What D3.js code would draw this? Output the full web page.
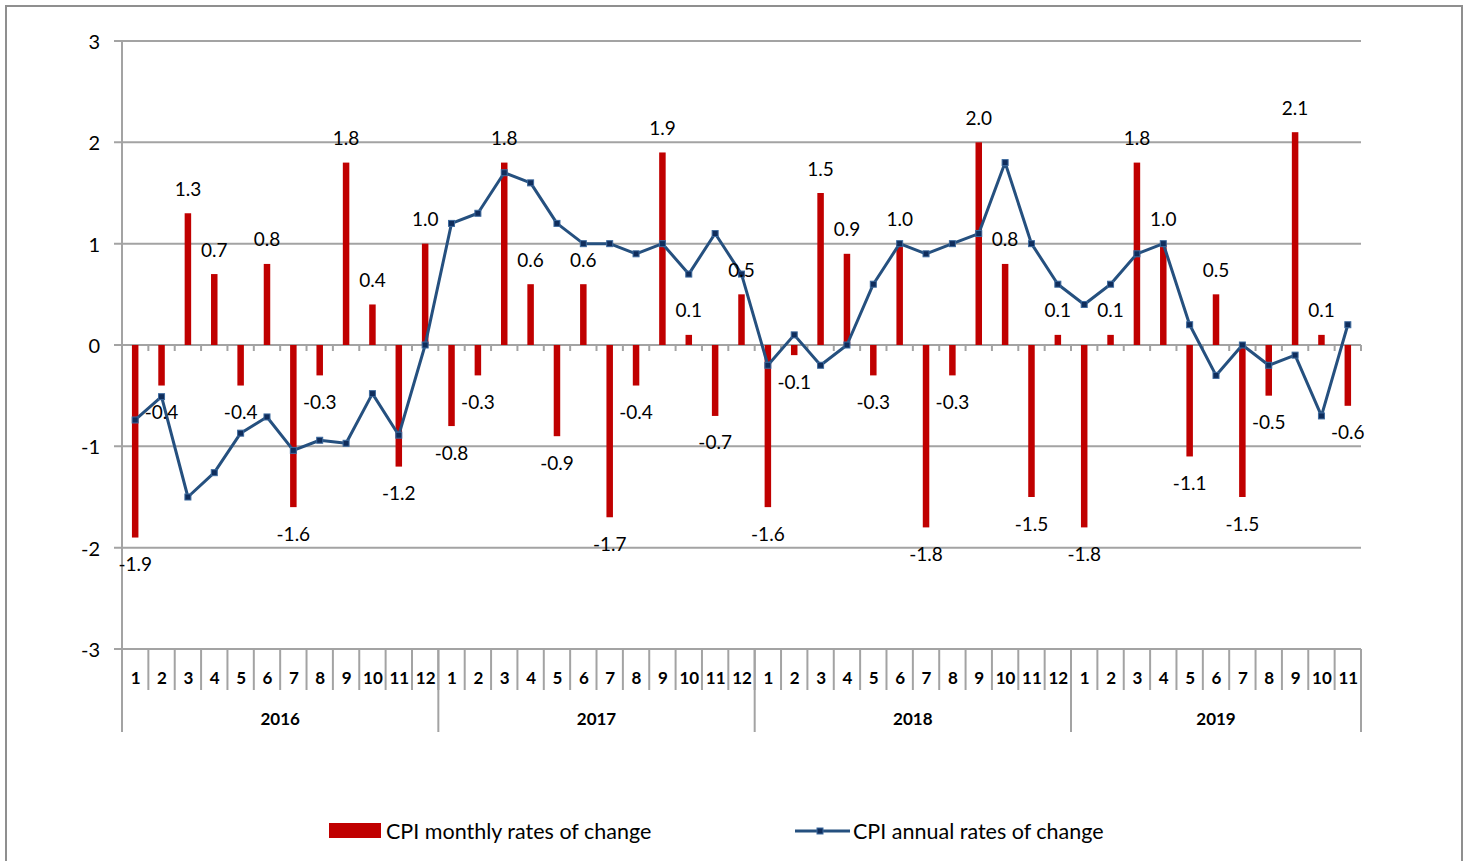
<!DOCTYPE html>
<html>
<head>
<meta charset="utf-8">
<script src="https://cdn.jsdelivr.net/npm/d3@7"></script>
<style>
  html, body { margin: 0; padding: 0; background: #fff; }
  svg { display: block; font-family: Lato, "Open Sans", sans-serif; }
</style>
</head>
<body>
<svg id="chart" width="1465" height="861"></svg>
<script>
// Years and the months shown for each
const years = ["2016", "2017", "2018", "2019"];
const monthsPerYear = [12, 12, 12, 11];

// CPI monthly rates of change (%)
const monthly2016 = [-1.9, -0.4, 1.3, 0.7, -0.4, 0.8, -1.6, -0.3, 1.8, 0.4, -1.2, 1.0];
const monthly2017 = [-0.8, -0.3, 1.8, 0.6, -0.9, 0.6, -1.7, -0.4, 1.9, 0.1, -0.7, 0.5];
const monthly2018 = [-1.6, -0.1, 1.5, 0.9, -0.3, 1.0, -1.8, -0.3, 2.0, 0.8, -1.5, 0.1];
const monthly2019 = [-1.8, 0.1, 1.8, 1.0, -1.1, 0.5, -1.5, -0.5, 2.1, 0.1, -0.6];

// CPI annual rates of change (%)
const annual2016 = [-0.74, -0.51, -1.5, -1.26, -0.87, -0.71, -1.04, -0.94, -0.97, -0.48, -0.89, 0.0];
const annual2017 = [1.2, 1.3, 1.7, 1.6, 1.2, 1.0, 1.0, 0.9, 1.0, 0.7, 1.1, 0.7];
const annual2018 = [-0.2, 0.1, -0.2, 0.0, 0.6, 1.0, 0.9, 1.0, 1.1, 1.8, 1.0, 0.6];
const annual2019 = [0.4, 0.6, 0.9, 1.0, 0.2, -0.3, 0.0, -0.2, -0.1, -0.7, 0.2];

const yTicks = [-3, -2, -1, 0, 1, 2, 3];
const seriesNames = ["CPI monthly rates of change", "CPI annual rates of change"];

// Flatten into one row per month
const monthlyAll = [monthly2016, monthly2017, monthly2018, monthly2019];
const annualAll = [annual2016, annual2017, annual2018, annual2019];
const rows = [];
years.forEach((yr, yi) => {
  for (let m = 0; m < monthsPerYear[yi]; m++) {
    rows.push({ key: yr + "-" + (m + 1), year: yr, month: m + 1,
                monthly: monthlyAll[yi][m], annual: annualAll[yi][m] });
  }
});

// Number formatting with a plain hyphen as the minus sign
const locale = d3.formatLocale({ decimal: ".", thousands: ",", grouping: [3], currency: ["", ""], minus: "-" });
const fmt1 = locale.format(".1f");
const fmtInt = locale.format("d");

const svg = d3.select("#chart");
const GRID = "#a3a3a3";
const BAR = "#c00000";
const LINE = "#25507f";

// Outer frame
svg.append("rect")
  .attr("x", 6).attr("y", 6).attr("width", 1456).attr("height", 900)
  .attr("fill", "none").attr("stroke", "#8f8f8f").attr("stroke-width", 2);

const plotLeft = 122, plotRight = 1361, plotTop = 41, plotBottom = 649;

const x = d3.scaleBand().domain(rows.map(d => d.key)).range([plotLeft, plotRight]).padding(0);
const y = d3.scaleLinear().domain([-3, 3]).range([plotBottom, plotTop]);

// Horizontal gridlines with left ticks
svg.append("g").selectAll("line").data(yTicks).join("line")
  .attr("x1", plotLeft - 8).attr("x2", plotRight)
  .attr("y1", d => y(d)).attr("y2", d => y(d))
  .attr("stroke", GRID).attr("stroke-width", 2);

// Y axis labels
svg.append("g").selectAll("text").data(yTicks).join("text")
  .attr("x", 100).attr("y", d => y(d))
  .attr("text-anchor", "end").attr("dominant-baseline", "central")
  .attr("font-size", 20).attr("fill", "#000")
  .text(d => fmtInt(d));

// Vertical axis line at left
svg.append("line")
  .attr("x1", plotLeft).attr("x2", plotLeft).attr("y1", plotTop).attr("y2", 732)
  .attr("stroke", GRID).attr("stroke-width", 2);

// Small ticks beneath the zero line at month boundaries
const boundaries = rows.map(d => x(d.key)).concat([plotRight]);
svg.append("g").selectAll("line").data(boundaries).join("line")
  .attr("x1", d => d).attr("x2", d => d)
  .attr("y1", y(0)).attr("y2", y(0) + 6)
  .attr("stroke", GRID).attr("stroke-width", 2);

// Category axis: month separators and labels
const cat = svg.append("g");
cat.selectAll("line.msep").data(boundaries).join("line")
  .attr("class", "msep")
  .attr("x1", d => d).attr("x2", d => d)
  .attr("y1", plotBottom).attr("y2", 690)
  .attr("stroke", GRID).attr("stroke-width", 2);

cat.selectAll("text.month").data(rows).join("text")
  .attr("class", "month")
  .attr("x", d => x(d.key) + x.bandwidth() / 2 + 0.5)
  .attr("y", 677)
  .attr("text-anchor", "middle").attr("dominant-baseline", "central")
  .attr("font-size", 17).attr("font-weight", "bold").attr("fill", "#000")
  .text(d => d.month);

// Year separators and labels
const yearSpans = years.map(yr => {
  const keys = rows.filter(r => r.year === yr).map(r => r.key);
  const x0 = x(keys[0]);
  const x1 = x(keys[keys.length - 1]) + x.bandwidth();
  return { yr, x0, x1 };
});
cat.selectAll("line.ysep").data(yearSpans).join("line")
  .attr("class", "ysep")
  .attr("x1", d => d.x1).attr("x2", d => d.x1)
  .attr("y1", plotBottom).attr("y2", 732)
  .attr("stroke", GRID).attr("stroke-width", 2);
cat.selectAll("text.year").data(yearSpans).join("text")
  .attr("class", "year")
  .attr("x", d => (d.x0 + d.x1) / 2).attr("y", 718)
  .attr("text-anchor", "middle").attr("dominant-baseline", "central")
  .attr("font-size", 17).attr("font-weight", "bold").attr("fill", "#000")
  .text(d => d.yr);

// Monthly bars
const barW = 6.5;
svg.append("g").selectAll("rect").data(rows).join("rect")
  .attr("x", d => x(d.key) + x.bandwidth() / 2 - barW / 2)
  .attr("width", barW)
  .attr("y", d => Math.min(y(d.monthly), y(0)))
  .attr("height", d => Math.abs(y(d.monthly) - y(0)))
  .attr("fill", BAR);

// Annual line with square markers
const line = d3.line()
  .x(d => x(d.key) + x.bandwidth() / 2)
  .y(d => y(d.annual));
svg.append("path").datum(rows)
  .attr("d", line)
  .attr("fill", "none").attr("stroke", LINE).attr("stroke-width", 3)
  .attr("stroke-linejoin", "round");
const mk = 6;
svg.append("g").selectAll("rect").data(rows).join("rect")
  .attr("x", d => x(d.key) + x.bandwidth() / 2 - mk / 2)
  .attr("y", d => y(d.annual) - mk / 2)
  .attr("width", mk).attr("height", mk)
  .attr("fill", "#0f2d5c").attr("stroke", "#3d6a9e").attr("stroke-width", 1);

// Value labels for the monthly bars
svg.append("g").selectAll("text").data(rows).join("text")
  .attr("x", d => x(d.key) + x.bandwidth() / 2)
  .attr("y", d => d.monthly >= 0 ? y(d.monthly) - 25 : y(d.monthly) + 26)
  .attr("text-anchor", "middle").attr("dominant-baseline", "central")
  .attr("font-size", 19).attr("fill", "#000")
  .text(d => fmt1(d.monthly));

// Legend
const lg = svg.append("g");
lg.append("rect").attr("x", 329).attr("y", 823).attr("width", 52).attr("height", 15).attr("fill", BAR);
lg.append("text").attr("x", 386).attr("y", 831).attr("dominant-baseline", "central")
  .attr("font-size", 21.5).attr("fill", "#000").text(seriesNames[0]);
lg.append("line").attr("x1", 795).attr("x2", 850).attr("y1", 831).attr("y2", 831)
  .attr("stroke", LINE).attr("stroke-width", 3);
lg.append("rect").attr("x", 820 - mk / 2).attr("y", 831 - mk / 2).attr("width", mk).attr("height", mk)
  .attr("fill", "#0f2d5c").attr("stroke", "#3d6a9e").attr("stroke-width", 1);
lg.append("text").attr("x", 853).attr("y", 831).attr("dominant-baseline", "central")
  .attr("font-size", 21.5).attr("fill", "#000").text(seriesNames[1]);
</script>
</body>
</html>
